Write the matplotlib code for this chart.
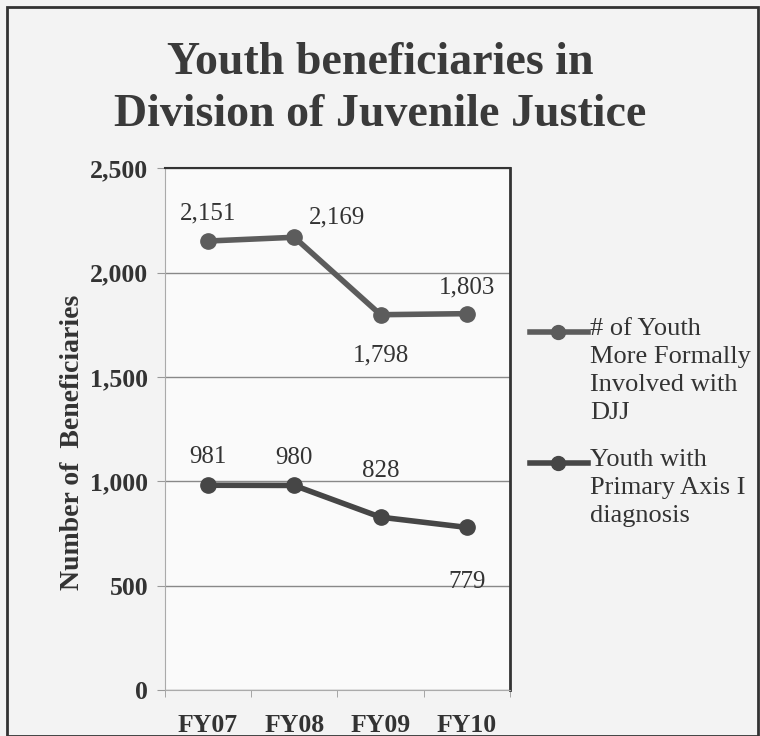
import matplotlib.pyplot as plt
from matplotlib.patches import Rectangle

years = ['FY07', 'FY08', 'FY09', 'FY10']
formal = [2151, 2169, 1798, 1803]
axis1 = [981, 980, 828, 779]
formal_label = '# of Youth\nMore Formally\nInvolved with\nDJJ'
axis1_label = 'Youth with\nPrimary Axis I\ndiagnosis'
formal_color = '#5c5c5c'
axis1_color = '#464646'

plt.rcParams['font.family'] = ['Liberation Serif', 'DejaVu Serif']

fig = plt.figure(figsize=(7.6, 7.36), dpi=100, facecolor='#f3f3f3')
fig.patches.append(Rectangle((0.009, 0.0), 0.988, 0.99, transform=fig.transFigure,
                             fill=False, edgecolor='#333333', linewidth=2))

ax = fig.add_axes([0.217, 0.0625, 0.454, 0.709])
ax.set_facecolor('#fafafa')
x = range(len(years))
ax.plot(x, formal, color=formal_color, linewidth=4, marker='o', markersize=11)
ax.plot(x, axis1, color=axis1_color, linewidth=4, marker='o', markersize=11)

ax.set_xlim(-0.5, 3.5)
ax.set_ylim(0, 2500)
ax.set_yticks(range(0, 2501, 500))
ax.set_yticklabels([f'{v:,}' for v in range(0, 2501, 500)], fontsize=18.5, fontweight='bold', color='#333333')
ax.set_xticks(list(x))
ax.set_xticklabels(years, fontsize=18.5, fontweight='bold', color='#333333')
ax.set_xticks([-0.5, 0.5, 1.5, 2.5, 3.5], minor=True)
ax.tick_params(axis='x', which='major', length=0, pad=17)
ax.tick_params(axis='x', which='minor', length=5, color='#999999', direction='out')
ax.tick_params(axis='y', length=6, color='#999999', pad=6)
ax.grid(axis='y', color='#888888', linewidth=1)
ax.set_axisbelow(True)
ax.spines['left'].set_color('#aaaaaa')
ax.spines['bottom'].set_color('#aaaaaa')
ax.spines['top'].set_color('#333333')
ax.spines['top'].set_linewidth(1.5)
ax.spines['right'].set_color('#333333')
ax.spines['right'].set_linewidth(2)
ax.set_ylabel('Number of  Beneficiaries', fontsize=20, fontweight='bold', color='#333333')
ax.yaxis.set_label_coords(-0.232, 0.475)

offsets_formal = [(0, 20), (31, 14), (0, -29), (0, 19)]
for i, v in enumerate(formal):
    dx, dy = offsets_formal[i]
    ax.annotate(f'{v:,}', (i, v), xytext=(dx, dy), textcoords='offset points',
                ha='center', va='center', fontsize=18, color='#333333')
offsets_axis1 = [(0, 20), (0, 20), (0, 33), (0, -39)]
for i, v in enumerate(axis1):
    dx, dy = offsets_axis1[i]
    ax.annotate(f'{v:,}', (i, v), xytext=(dx, dy), textcoords='offset points',
                ha='center', va='center', fontsize=18, color='#333333')

fig.text(0.5, 0.879, 'Youth beneficiaries in\nDivision of Juvenile Justice', ha='center', va='center',
         fontsize=33, fontweight='bold', color='#3a3a3a', linespacing=1.33)

# legend: handle lined up with the first text line of each entry
legend_items = [(formal_label, formal_color, 0.686), (axis1_label, axis1_color, 0.435)]
for label, color, ly in legend_items:
    ax.plot([1.058, 1.226], [ly, ly], transform=ax.transAxes, clip_on=False,
            color=color, linewidth=4, marker=None)
    ax.plot([1.139], [ly], transform=ax.transAxes, clip_on=False,
            color=color, marker='o', markersize=10)
    ax.text(1.232, ly + 0.026, label, transform=ax.transAxes, ha='left', va='top',
            fontsize=19, color='#333333', linespacing=1.35)

fig.savefig('out.png', dpi=100, facecolor=fig.get_facecolor())
